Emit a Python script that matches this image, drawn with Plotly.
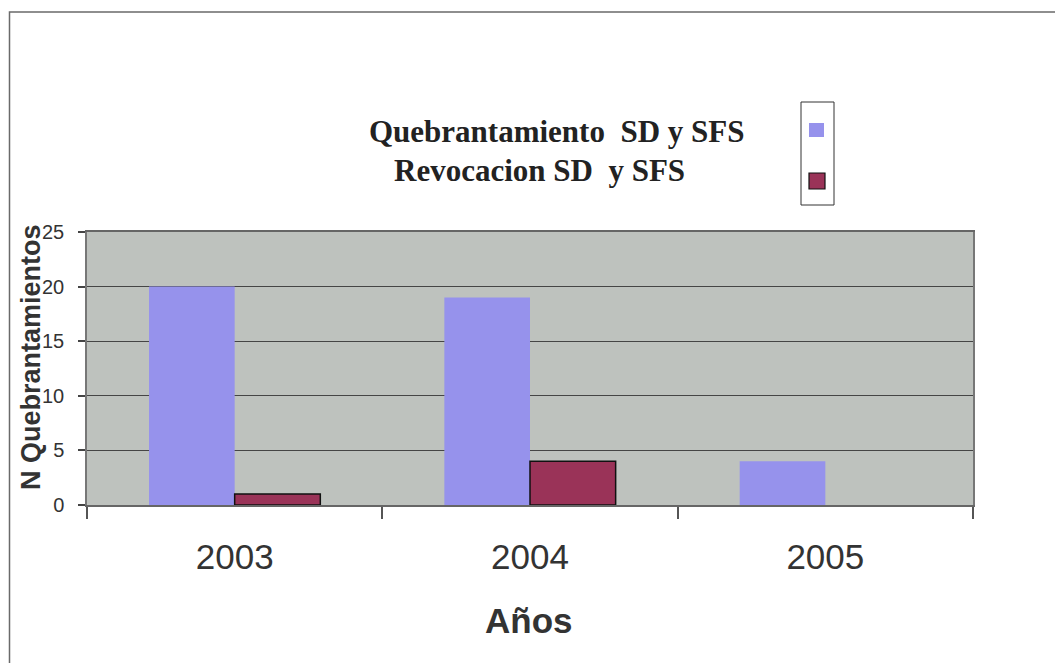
import plotly.graph_objects as go

years = ["2003", "2004", "2005"]
quebrantamiento = [20, 19, 4]
revocacion = [1, 4, 0]
series_names = ["Quebrantamiento\u00a0 SD y SFS", "Revocacion SD\u00a0 y SFS"]
y_ticks = [0, 5, 10, 15, 20, 25]

BLUE = "#9692EC"
RED = "#9A3358"

fig = go.Figure()
fig.add_trace(go.Bar(x=years, y=quebrantamiento, name=series_names[0],
                     marker=dict(color=BLUE, line=dict(width=0))))
fig.add_trace(go.Bar(x=years, y=revocacion, name=series_names[1],
                     marker=dict(color=RED,
                                 line=dict(color="#111111",
                                           width=[1.5 if v > 0 else 0 for v in revocacion]))))

OFF = 8  # page body margin
W, H = 1063 - OFF, 663 - OFF
# screen-space plot area: x 87..973, y 232..505
SL, SR, ST, SB = 87, 973, 232, 505
L, T = SL - OFF, ST - OFF
R = W - (SR - OFF)
B = H - (SB - OFF)
pw = SR - SL
ph = SB - ST

def px(x):
    return (x - SL) / pw

def py(y):
    return (SB - y) / ph

shapes = [
    dict(type="rect", xref="paper", yref="paper", x0=px(9.5), x1=px(1100), y0=py(700), y1=py(12),
         line=dict(color="#6a6a6a", width=1.5), fillcolor="rgba(0,0,0,0)", layer="below"),
    dict(type="rect", xref="paper", yref="paper", x0=px(801), x1=px(834), y0=py(205), y1=py(102),
         line=dict(color="#333333", width=1), fillcolor="white"),
    dict(type="rect", xref="paper", yref="paper", x0=px(809), x1=px(824), y0=py(137), y1=py(123),
         line=dict(width=0), fillcolor=BLUE),
    dict(type="rect", xref="paper", yref="paper", x0=px(809), x1=px(825), y0=py(189), y1=py(173),
         line=dict(color="#111111", width=1.2), fillcolor=RED),
]

annotations = [
    dict(text="<b>" + series_names[0] + "</b>", xref="paper", yref="paper", x=px(367), y=py(131),
         xanchor="left", yanchor="middle", showarrow=False,
         font=dict(family="Liberation Serif, Times New Roman, serif", size=31, color="#222222")),
    dict(text="<b>" + series_names[1] + "</b>", xref="paper", yref="paper", x=px(392), y=py(171),
         xanchor="left", yanchor="middle", showarrow=False,
         font=dict(family="Liberation Serif, Times New Roman, serif", size=31, color="#222222")),
    dict(text="<b>N Quebrantamientos</b>", xref="paper", yref="paper", x=px(31), y=py(357),
         xanchor="center", yanchor="middle", textangle=-90, showarrow=False,
         font=dict(family="Liberation Sans, Arial, sans-serif", size=27, color="#333333")),
    dict(text="<b>Años</b>", xref="paper", yref="paper", x=px(529), y=py(620),
         xanchor="center", yanchor="middle", showarrow=False,
         font=dict(family="Liberation Sans, Arial, sans-serif", size=35, color="#333333")),
]

fig.update_layout(
    width=W, height=H,
    margin=dict(l=L, r=R, t=T, b=B, autoexpand=False),
    paper_bgcolor="white",
    plot_bgcolor="#BEC2BE",
    barmode="group",
    bargap=0.42,
    bargroupgap=0,
    showlegend=False,
    shapes=shapes,
    annotations=annotations,
    font=dict(family="Liberation Sans, Arial, sans-serif", color="#333333"),
)

fig.update_xaxes(
    type="category",
    tickson="boundaries",
    ticks="outside", ticklen=12, tickcolor="#555555", tickwidth=1.5,
    showgrid=False,
    showline=True, linecolor="#666666", linewidth=1.5, mirror=True,
    tickfont=dict(size=35, color="#333333"),
    ticklabelstandoff=20,
)
fig.update_yaxes(
    range=[0, 25], tickvals=y_ticks,
    ticks="outside", ticklen=7, tickcolor="#444444", tickwidth=1.5,
    showgrid=True, gridcolor="#454545", gridwidth=1,
    showline=True, linecolor="#777777", linewidth=1.5, mirror=True,
    zeroline=False,
    tickfont=dict(size=20, color="#333333"),
    ticklabelstandoff=10,
)

fig.write_html("out.html")
